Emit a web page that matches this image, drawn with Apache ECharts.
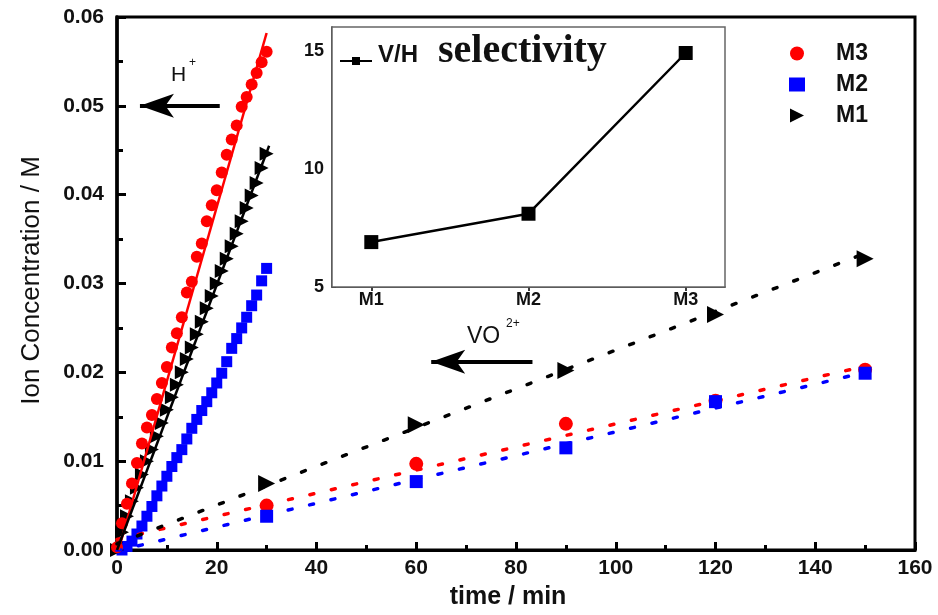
<!DOCTYPE html>
<html>
<head>
<meta charset="utf-8">
<script src="https://cdn.jsdelivr.net/npm/echarts@6/dist/echarts.min.js"></script>
<style>html,body{margin:0;padding:0;background:#fff}#c{width:938px;height:615px}</style>
</head>
<body>
<div id="c"></div>
<script>
// ---------- data ----------
// H+ permeation (0-30 min)
const hTime = [0,1,2,3,4,5,6,7,8,9,10,11,12,13,14,15,16,17,18,19,20,21,22,23,24,25,26,27,28,29,30];
const hM3 = [0.0003,0.0030,0.0052,0.0075,0.0098,0.0120,0.0138,0.0152,0.0170,0.0188,0.0206,0.0228,0.0244,0.0262,0.0290,0.0302,0.0330,0.0345,0.0370,0.0388,0.0405,0.0425,0.0445,0.0462,0.0478,0.0499,0.0510,0.0524,0.0537,0.0549,0.0561];
const hM1 = [0.0000,0.0020,0.0038,0.0055,0.0070,0.0085,0.0100,0.0113,0.0128,0.0143,0.0158,0.0172,0.0186,0.0200,0.0215,0.0228,0.0243,0.0257,0.0272,0.0286,0.0300,0.0314,0.0328,0.0342,0.0356,0.0370,0.0385,0.0399,0.0413,0.0430,0.0446];
const hTimeM2 = [1,2,3,4,5,6,7,8,9,10,11,12,13,14,15,16,17,18,19,20,21,22,23,24,25,26,27,28,29,30];
const hM2 = [0.0000,0.0004,0.0010,0.0018,0.0027,0.0038,0.0049,0.0061,0.0072,0.0083,0.0094,0.0104,0.0113,0.0125,0.0137,0.0147,0.0157,0.0167,0.0177,0.0188,0.0199,0.0212,0.0227,0.0238,0.0250,0.0262,0.0275,0.0287,0.0303,0.0317];
// H+ linear fits (end points)
const hFitTimeM3 = [0.3, 30];
const hFitM3 = [0.0000, 0.0582];
const hFitTimeM1 = [0, 30.5];
const hFitM1 = [0.0000, 0.0455];
// VO2+ permeation
const vTime = [30, 60, 90, 120, 150];
const vM3 = [0.0050, 0.0097, 0.0142, 0.0168, 0.0203];
const vM2 = [0.0038, 0.0077, 0.0115, 0.0167, 0.0199];
const vM1 = [0.0075, 0.0141, 0.0202, 0.0265, 0.0328];
// VO2+ linear fits (end points)
const vFitTime = [0, 150];
const vFitM3 = [0.0012, 0.0207];
const vFitM2 = [-0.0001, 0.0200];
const vFitM1 = [0.0007, 0.0334];
// inset: V/H selectivity
const insetCats = ['M1', 'M2', 'M3'];
const insetPos = [1, 2, 3];
const selectivity = [6.9, 8.1, 14.9];
// axis ticks
const xTicks = [0, 20, 40, 60, 80, 100, 120, 140, 160];
const yTicks = [0, 0.01, 0.02, 0.03, 0.04, 0.05, 0.06];
const insetYTicks = [5, 10, 15];
// annotation arrows (data space)
const arrowH = [[20.6, 0.05], [4.6, 0.05]];
const arrowVO = [[83.3, 0.0212], [63, 0.0212]];

const zip = (a, b) => a.map((v, i) => [v, b[i]]);
const FF = 'Liberation Sans, Arial, sans-serif';
const SERIF = 'Liberation Serif, Times New Roman, serif';
const RED = '#ff0000', BLUE = '#0000ff', BLK = '#000000';

const chart = echarts.init(document.getElementById('c'), null, {renderer: 'canvas'});
const option = {
  animation: false,
  backgroundColor: '#fff',
  grid: [
    {left: 117, right: 23, top: 17, bottom: 62, show: true, borderColor: '#000', borderWidth: 3, backgroundColor: 'transparent'},
    {left: 332, right: 213, top: 27, bottom: 328, show: true, borderColor: '#666', borderWidth: 1.5, backgroundColor: '#fff', z: 5}
  ],
  xAxis: [
    {gridIndex: 0, type: 'value', min: xTicks[0], max: xTicks[xTicks.length - 1], interval: 20,
     name: 'time / min', nameLocation: 'middle', nameGap: 35,
     nameTextStyle: {fontFamily: FF, fontSize: 25, fontWeight: 'bold', color: '#111', padding: [0, 16, 0, 0]},
     axisLine: {show: true, lineStyle: {color: '#000', width: 3}},
     axisTick: {show: true, inside: true, length: 8, lineStyle: {color: '#000', width: 3}},
     minorTick: {show: true, splitNumber: 2, length: 5, lineStyle: {color: '#000', width: 3}},
     splitLine: {show: false},
     axisLabel: {fontFamily: FF, fontSize: 21, fontWeight: 'bold', color: '#111', margin: 8}},
    {gridIndex: 1, type: 'value', min: 0.75, max: 3.25,
     axisLine: {show: true, lineStyle: {color: '#000', width: 1.5}},
     axisTick: {show: true, customValues: insetPos, length: 4, lineStyle: {color: '#000', width: 1.5}},
     splitLine: {show: false},
     axisLabel: {customValues: insetPos, formatter: v => insetCats[insetPos.indexOf(Math.round(v))] || '',
                 fontFamily: FF, fontSize: 18, fontWeight: 'bold', color: '#111', margin: 4}}
  ],
  yAxis: [
    {gridIndex: 0, type: 'value', min: 0, max: 0.06, interval: 0.01,
     name: 'Ion Concentration / M', nameLocation: 'middle', nameGap: 72,
     nameTextStyle: {fontFamily: FF, fontSize: 26, color: '#111', padding: [0, 0, 0, 6]},
     axisLine: {show: true, lineStyle: {color: '#000', width: 3.5}},
     axisTick: {show: true, inside: true, length: 9, lineStyle: {color: '#000', width: 3}},
     minorTick: {show: true, splitNumber: 2, length: 6, lineStyle: {color: '#000', width: 3}},
     splitLine: {show: false},
     axisLabel: {fontFamily: FF, fontSize: 21, fontWeight: 'bold', color: '#111', margin: 13, formatter: v => v.toFixed(2)}},
    {gridIndex: 1, type: 'value', min: 5, max: 16,
     axisLine: {show: true, lineStyle: {color: '#000', width: 1.5}},
     axisTick: {show: true, inside: true, customValues: insetYTicks, length: 4, lineStyle: {color: '#000', width: 1.5}},
     splitLine: {show: false},
     axisLabel: {customValues: insetYTicks, fontFamily: FF, fontSize: 18, fontWeight: 'bold', color: '#111', margin: 8}}
  ],
  legend: [
    {data: [{name: 'M3', icon: 'circle'}, {name: 'M2', icon: 'rect'}, {name: 'M1', icon: 'path://M0,0L10,5L0,10Z'}],
     orient: 'vertical', left: 784, top: 37, itemWidth: 16, itemHeight: 14, itemGap: 8, selectedMode: false,
     textStyle: {fontFamily: FF, fontSize: 23, fontWeight: 'bold', color: '#111', padding: [0, 0, 0, 26]}},
    {data: ['V/H'], left: 334, top: 51, itemWidth: 32, itemHeight: 10, selectedMode: false, z: 10,
     formatter: () => '', textStyle: {fontSize: 1}}
  ],
  graphic: [
    {type: 'text', left: 378, top: 43, z: 20, style: {text: 'V/H', font: 'bold 24px ' + FF, fill: '#111'}},
    {type: 'text', left: 438, top: 32, z: 20, style: {text: 'selectivity', font: 'bold 40px ' + SERIF, fill: '#111'}},
    {type: 'text', left: 171, top: 65, z: 20, style: {text: 'H', font: '21px ' + FF, fill: '#111'}},
    {type: 'text', left: 189, top: 57, z: 20, style: {text: '+', font: '12px ' + FF, fill: '#111'}},
    {type: 'text', left: 467, top: 325, z: 20, style: {text: 'VO', font: '23px ' + FF, fill: '#111'}},
    {type: 'text', left: 506, top: 318, z: 20, style: {text: '2+', font: '12px ' + FF, fill: '#111'}}
  ],
  series: [
    // VO2+ dotted fits
    {type: 'line', name: 'fitV3', data: zip(vFitTime, vFitM3), symbol: 'none', silent: true,
     lineStyle: {color: RED, width: 3.5, type: [4, 18], cap: 'round'}},
    {type: 'line', name: 'fitV2', data: zip(vFitTime, vFitM2), symbol: 'none', silent: true,
     lineStyle: {color: BLUE, width: 3.5, type: [4, 18], cap: 'round'}},
    {type: 'line', name: 'fitV1', data: zip(vFitTime, vFitM1), symbol: 'none', silent: true,
     lineStyle: {color: BLK, width: 3.5, type: [4, 18], cap: 'round'}},
    // H+ markers
    {type: 'scatter', name: 'M2', data: zip(hTimeM2, hM2), symbol: 'rect', symbolSize: 11, itemStyle: {color: BLUE, opacity: 1}},
    {type: 'scatter', name: 'M1', data: zip(hTime, hM1), symbol: 'triangle', symbolRotate: -90, symbolSize: 14, itemStyle: {color: BLK, opacity: 1}},
    {type: 'scatter', name: 'M3', data: zip(hTime, hM3), symbol: 'circle', symbolSize: 12, itemStyle: {color: RED, opacity: 1}},
    // H+ fits
    {type: 'line', name: 'fitH3', data: zip(hFitTimeM3, hFitM3), symbol: 'none', silent: true, z: 3,
     lineStyle: {color: RED, width: 2.5}},
    {type: 'line', name: 'fitH1', data: zip(hFitTimeM1, hFitM1), symbol: 'none', silent: true, z: 3,
     lineStyle: {color: BLK, width: 2.5},
     markLine: {silent: true, symbol: ['none', 'arrow'], symbolSize: [18, 34],
       lineStyle: {color: '#000', width: 4, type: 'solid'}, label: {show: false},
       data: [[{coord: arrowH[0]}, {coord: arrowH[1]}], [{coord: arrowVO[0]}, {coord: arrowVO[1]}]]}},
    // VO2+ markers
    {type: 'scatter', name: 'M3', data: zip(vTime, vM3), symbol: 'circle', symbolSize: 14, itemStyle: {color: RED, opacity: 1}, z: 4},
    {type: 'scatter', name: 'M2', data: zip(vTime, vM2), symbol: 'rect', symbolSize: 13, itemStyle: {color: BLUE, opacity: 1}, z: 4},
    {type: 'scatter', name: 'M1', data: zip(vTime, vM1), symbol: 'triangle', symbolRotate: -90, symbolSize: 17, itemStyle: {color: BLK, opacity: 1}, z: 4},
    // inset
    {type: 'line', name: 'V/H', xAxisIndex: 1, yAxisIndex: 1, data: zip(insetPos, selectivity), z: 6,
     symbol: 'rect', symbolSize: 14, itemStyle: {color: BLK}, lineStyle: {color: BLK, width: 2.5}}
  ]
};
chart.setOption(option);
</script>
</body>
</html>
